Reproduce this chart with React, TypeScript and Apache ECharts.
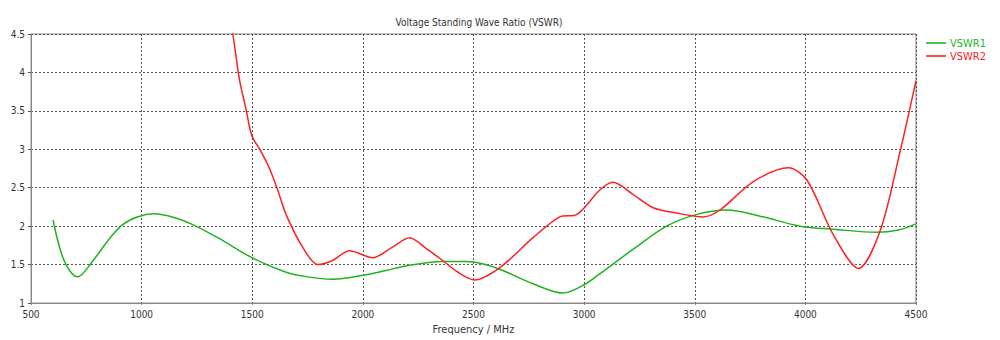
import React, { useEffect, useRef } from "react";
import * as echarts from "echarts";

const vswr1Freq = [600, 650, 710, 780, 850, 914, 980, 1057, 1150, 1231, 1350, 1498, 1653, 1750, 1864, 2000, 2100, 2211, 2362, 2468, 2540, 2619, 2769, 2905, 2995, 3071, 3222, 3373, 3506, 3644, 3795, 3976, 4126, 4323, 4420, 4500];
const vswr1Vals = [2.08, 1.55, 1.34, 1.55, 1.82, 2.02, 2.12, 2.16, 2.11, 2.02, 1.84, 1.59, 1.40, 1.34, 1.31, 1.36, 1.42, 1.49, 1.54, 1.54, 1.51, 1.44, 1.25, 1.13, 1.23, 1.38, 1.70, 2.00, 2.15, 2.21, 2.13, 2.00, 1.96, 1.92, 1.95, 2.03];

const vswr2Freq = [1390, 1412, 1442, 1472, 1498, 1540, 1578, 1615, 1653, 1729, 1796, 1860, 1940, 2045, 2130, 2211, 2290, 2362, 2430, 2505, 2619, 2769, 2890, 2966, 3071, 3131, 3222, 3312, 3418, 3538, 3614, 3765, 3923, 4007, 4126, 4240, 4338, 4428, 4500];
const vswr2Vals = [4.8, 4.5, 3.91, 3.52, 3.18, 2.97, 2.75, 2.47, 2.15, 1.72, 1.50, 1.55, 1.68, 1.59, 1.72, 1.85, 1.70, 1.55, 1.40, 1.30, 1.46, 1.85, 2.12, 2.15, 2.47, 2.57, 2.41, 2.24, 2.17, 2.12, 2.21, 2.58, 2.76, 2.60, 1.89, 1.45, 1.94, 2.97, 3.89];

const xTicks = { min: 500, max: 4500, interval: 500 };
const yTicks = { min: 1, max: 4.5, interval: 0.5 };

const GREEN = "#1fb31f";
const RED = "#ff2020";

export default function App() {
  const ref = useRef<HTMLDivElement>(null);
  useEffect(() => {
    document.body.style.margin = "0";
    const chart = echarts.init(ref.current!, null, { renderer: "svg" });
    const font = "'DejaVu Sans Condensed', 'Liberation Sans', sans-serif";
    chart.setOption({
      animation: false,
      backgroundColor: "#ffffff",
      textStyle: { fontFamily: font },
      title: {
        text: "Voltage Standing Wave Ratio (VSWR)",
        left: 474,
        textAlign: "center",
        top: 12,
        textStyle: { fontSize: 10, fontWeight: "normal", color: "#333", fontFamily: font },
      },
      legend: {
        orient: "vertical",
        left: 926,
        top: 37,
        padding: 0,
        itemWidth: 20,
        itemHeight: 12,
        itemGap: 1,
        icon: "path://M0,0 L20,0 L20,1.6 L0,1.6 Z",
        data: [
          { name: "VSWR1", textStyle: { color: GREEN } },
          { name: "VSWR2", textStyle: { color: RED } },
        ],
        textStyle: { fontSize: 11, fontFamily: font, lineHeight: 12, padding: [0, 0, 0, -1] },
      },
      grid: { left: 31, right: 84, top: 34, bottom: 35, show: true, borderColor: "#888", borderWidth: 1, backgroundColor: "transparent" },
      xAxis: {
        type: "value",
        min: xTicks.min,
        max: xTicks.max,
        interval: xTicks.interval,
        name: "Frequency / MHz",
        nameLocation: "middle",
        nameGap: 21,
        nameTextStyle: { fontSize: 11, color: "#333", fontFamily: font },
        axisLine: { show: true, lineStyle: { color: "#888" } },
        axisTick: { show: true, length: 2, lineStyle: { color: "#888" } },
        axisLabel: { fontSize: 10, color: "#333", margin: 6, fontFamily: font, formatter: (v: number) => String(v) },
        splitLine: { show: true, lineStyle: { color: "#555", type: [2, 2], width: 1 } },
      },
      yAxis: {
        type: "value",
        min: yTicks.min,
        max: yTicks.max,
        interval: yTicks.interval,
        axisLine: { show: true, lineStyle: { color: "#888" } },
        axisTick: { show: true, length: 3, lineStyle: { color: "#555" } },
        axisLabel: { fontSize: 10, color: "#333", margin: 6, fontFamily: font },
        splitLine: { show: true, lineStyle: { color: "#555", type: [2, 2], width: 1 } },
      },
      series: [
        {
          name: "VSWR1",
          type: "line",
          smooth: 0.35,
          showSymbol: false,
          clip: true,
          color: GREEN,
          lineStyle: { color: GREEN, width: 1.5 },
          data: vswr1Freq.map((f, i) => [f, vswr1Vals[i]]),
        },
        {
          name: "VSWR2",
          type: "line",
          smooth: 0.3,
          showSymbol: false,
          clip: true,
          color: RED,
          lineStyle: { color: RED, width: 1.5 },
          data: vswr2Freq.map((f, i) => [f, vswr2Vals[i]]),
        },
      ],
    });
    return () => chart.dispose();
  }, []);
  return <div ref={ref} style={{ width: 1000, height: 340 }} />;
}
